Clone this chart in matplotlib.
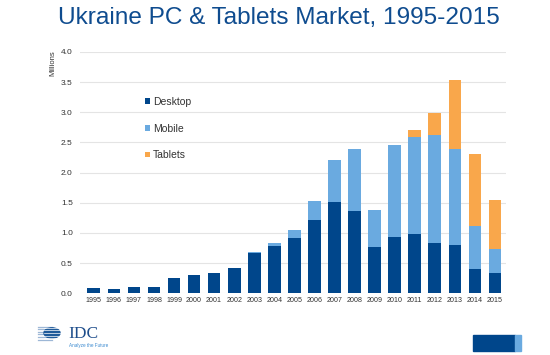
import matplotlib.pyplot as plt
from matplotlib.patches import Rectangle, Circle

years = [str(y) for y in range(1995, 2016)]
desktop = [0.08, 0.075, 0.10, 0.10, 0.26, 0.30, 0.34, 0.42, 0.66, 0.78, 0.92,
           1.21, 1.51, 1.36, 0.77, 0.93, 0.98, 0.83, 0.80, 0.40, 0.33]
mobile = [0.0, 0.0, 0.0, 0.0, 0.0, 0.0, 0.0, 0.0, 0.02, 0.06, 0.13,
          0.31, 0.70, 1.03, 0.61, 1.52, 1.61, 1.79, 1.59, 0.72, 0.40]
tablets = [0.0] * 11 + [0.0, 0.0, 0.0, 0.0, 0.0, 0.12, 0.37, 1.14, 1.19, 0.81]
series = ['Desktop', 'Mobile', 'Tablets']
colors = ['#00468B', '#6AAAE0', '#F9A74B']

plt.rcParams['font.family'] = ['Liberation Sans', 'DejaVu Sans']

fig = plt.figure(figsize=(5.5, 3.55), dpi=100)
ax = fig.add_axes([0.145, 0.174, 0.775, 0.68])

x = range(len(years))
bottom2 = [d + m for d, m in zip(desktop, mobile)]
w = 0.63
ax.bar(x, desktop, w, color=colors[0], label=series[0], zorder=2)
ax.bar(x, mobile, w, bottom=desktop, color=colors[1], label=series[1], zorder=2)
ax.bar(x, tablets, w, bottom=bottom2, color=colors[2], label=series[2], zorder=2)

ax.set_xlim(-0.7, 20.55)
ax.set_ylim(0, 4.0)
ax.set_yticks([i * 0.5 for i in range(9)])
ax.set_yticklabels([f'{i * 0.5:.1f}' for i in range(9)])
ax.set_xticks(list(x))
ax.set_xticklabels(years)
ax.tick_params(axis='x', labelsize=5.1, length=0, pad=3, colors='#333333')
ax.tick_params(axis='y', labelsize=6, length=0, pad=5, colors='#333333')
ax.grid(axis='y', color='#E4E4E4', lw=0.8, zorder=0)
for s in ax.spines.values():
    s.set_visible(False)

ax.set_ylabel('Millions', fontsize=5.5, color='#333333')
ax.yaxis.set_label_coords(-0.056, 0.955)

leg = ax.legend(loc='upper left', bbox_to_anchor=(0.153, 0.813), frameon=False,
                fontsize=7.5, handlelength=0.45, handleheight=0.45,
                handletextpad=0.35, labelspacing=1.6, borderaxespad=0,
                borderpad=0)
for t in leg.get_texts():
    t.set_color('#333333')

fig.text(0.507, 0.948, 'Ukraine PC & Tablets Market, 1995-2015', ha='center',
         va='center', fontsize=17.6, color='#0F4C8F')

# IDC logo
gx, gy, gr = 52 / 550, 1 - 333 / 355, 8 / 550
for i in range(6):
    yy = 1 - (326.5 + i * 2.6) / 355
    fig.add_artist(plt.Line2D([38 / 550, gx], [yy, yy], color='#9DB7D6',
                              lw=0.9, transform=fig.transFigure))
fig.add_artist(Circle((gx, gy), gr, transform=fig.transFigure,
                      color='#1F5A99', zorder=3))
for i in range(5):
    yy = 1 - (327.8 + i * 2.6) / 355
    fig.add_artist(plt.Line2D([gx - gr, gx + gr], [yy, yy], color='white',
                              lw=0.5, transform=fig.transFigure, zorder=4))
fig.text(68 / 550, 1 - 334.5 / 355, 'IDC', fontsize=12.5,
         family='Liberation Serif', color='#1F4E8C', va='center', ha='left')
fig.text(69 / 550, 1 - 345 / 355, 'Analyze the Future', fontsize=3.3,
         color='#3D8BD0', va='center', ha='left')

# bottom right bar
fig.add_artist(Rectangle((473 / 550, 1 - 351 / 355), 42 / 550, 16 / 355,
                         transform=fig.transFigure, color='#00468B'))
fig.add_artist(Rectangle((515 / 550, 1 - 351 / 355), 6 / 550, 16 / 355,
                         transform=fig.transFigure, color='#6AAAE0'))

fig.savefig('out.png', dpi=100)
